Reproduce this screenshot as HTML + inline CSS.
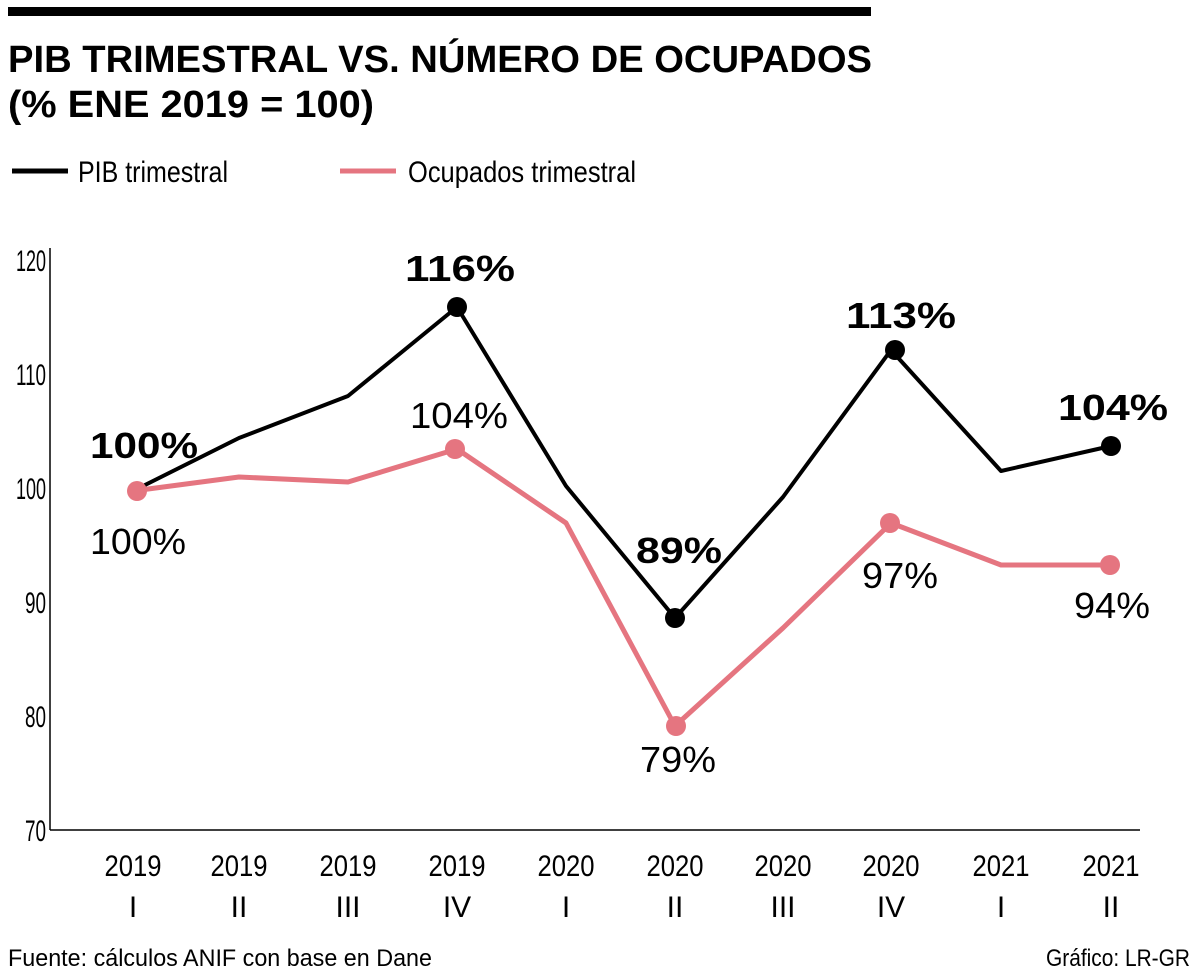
<!DOCTYPE html>
<html><head><meta charset="utf-8"><style>
html,body{margin:0;padding:0;background:#fff;}
svg{display:block;}
text{font-family:"Liberation Sans",sans-serif;}
</style></head><body>
<svg width="1200" height="972" viewBox="0 0 1200 972" xmlns="http://www.w3.org/2000/svg">
<rect x="8" y="7" width="863" height="9" fill="#000"/>
<text x="8" y="72" font-size="38" font-weight="bold" textLength="864" lengthAdjust="spacingAndGlyphs">PIB TRIMESTRAL VS. NÚMERO DE OCUPADOS</text>
<text x="8" y="117" font-size="38" font-weight="bold" textLength="366" lengthAdjust="spacingAndGlyphs">(% ENE 2019 = 100)</text>
<line x1="12" y1="171" x2="68" y2="171" stroke="#000" stroke-width="5"/>
<text x="78" y="182" font-size="30" textLength="150" lengthAdjust="spacingAndGlyphs">PIB trimestral</text>
<line x1="340" y1="171" x2="396" y2="171" stroke="#e57580" stroke-width="5"/>
<text x="408" y="182" font-size="30" textLength="228" lengthAdjust="spacingAndGlyphs">Ocupados trimestral</text>
<g stroke="#000" stroke-width="1.5"><line x1="50" y1="248" x2="50" y2="830"/><line x1="50" y1="830" x2="1140" y2="830"/></g>
<g font-size="30">
<text x="16" y="271" textLength="30" lengthAdjust="spacingAndGlyphs">120</text>
<text x="16" y="385" textLength="30" lengthAdjust="spacingAndGlyphs">110</text>
<text x="16" y="499" textLength="30" lengthAdjust="spacingAndGlyphs">100</text>
<text x="25" y="613" textLength="21" lengthAdjust="spacingAndGlyphs">90</text>
<text x="25" y="727" textLength="21" lengthAdjust="spacingAndGlyphs">80</text>
<text x="25" y="841" textLength="21" lengthAdjust="spacingAndGlyphs">70</text></g>
<g font-size="30">
<text x="104.5" y="876" textLength="57" lengthAdjust="spacingAndGlyphs">2019</text>
<text x="210.5" y="876" textLength="57" lengthAdjust="spacingAndGlyphs">2019</text>
<text x="319.5" y="876" textLength="57" lengthAdjust="spacingAndGlyphs">2019</text>
<text x="428.5" y="876" textLength="57" lengthAdjust="spacingAndGlyphs">2019</text>
<text x="537.5" y="876" textLength="57" lengthAdjust="spacingAndGlyphs">2020</text>
<text x="646.5" y="876" textLength="57" lengthAdjust="spacingAndGlyphs">2020</text>
<text x="754.5" y="876" textLength="57" lengthAdjust="spacingAndGlyphs">2020</text>
<text x="862.5" y="876" textLength="57" lengthAdjust="spacingAndGlyphs">2020</text>
<text x="972.5" y="876" textLength="57" lengthAdjust="spacingAndGlyphs">2021</text>
<text x="1082.5" y="876" textLength="57" lengthAdjust="spacingAndGlyphs">2021</text>
</g>
<g font-size="30" text-anchor="middle">
<text x="133" y="917">I</text><text x="239" y="917">II</text><text x="348" y="917">III</text><text x="457" y="917">IV</text>
<text x="566" y="917">I</text><text x="675" y="917">II</text><text x="783" y="917">III</text><text x="891" y="917">IV</text>
<text x="1001" y="917">I</text><text x="1111" y="917">II</text></g>
<polyline fill="none" stroke="#e57580" stroke-width="5" stroke-linejoin="round" points="133,491 239,477 348,482 457,449 566,523 675,726 783,628 891,523 1001,565 1111,565"/>
<polyline fill="none" stroke="#000" stroke-width="4" stroke-linejoin="round" points="133,491 239,438 348,396 457,307 566,486 675,618 783,497 891,350 1001,471 1111,446"/>
<g fill="#e57580"><circle cx="137" cy="491" r="10"/><circle cx="455" cy="449" r="10"/><circle cx="676" cy="726" r="10"/><circle cx="890" cy="523" r="10"/><circle cx="1110" cy="565" r="10"/></g>
<g fill="#000"><circle cx="457" cy="307" r="10"/><circle cx="675" cy="618" r="10"/><circle cx="895" cy="350" r="10"/><circle cx="1111" cy="446" r="10"/></g>
<g font-size="36" font-weight="bold">
<text x="90" y="458" textLength="108" lengthAdjust="spacingAndGlyphs">100%</text>
<text x="405" y="281" textLength="110" lengthAdjust="spacingAndGlyphs">116%</text>
<text x="636" y="563" textLength="86" lengthAdjust="spacingAndGlyphs">89%</text>
<text x="846" y="328" textLength="110" lengthAdjust="spacingAndGlyphs">113%</text>
<text x="1058" y="420" textLength="110" lengthAdjust="spacingAndGlyphs">104%</text></g>
<g font-size="36">
<text x="90" y="554" textLength="96" lengthAdjust="spacingAndGlyphs">100%</text>
<text x="410" y="428" textLength="98" lengthAdjust="spacingAndGlyphs">104%</text>
<text x="640" y="772" textLength="76" lengthAdjust="spacingAndGlyphs">79%</text>
<text x="862" y="588" textLength="76" lengthAdjust="spacingAndGlyphs">97%</text>
<text x="1074" y="618" textLength="76" lengthAdjust="spacingAndGlyphs">94%</text></g>
<text x="8" y="966" font-size="24" textLength="424" lengthAdjust="spacingAndGlyphs">Fuente: cálculos ANIF con base en Dane</text>
<text x="1046" y="966" font-size="24" textLength="144" lengthAdjust="spacingAndGlyphs">Gráfico: LR-GR</text>
</svg>
</body></html>
